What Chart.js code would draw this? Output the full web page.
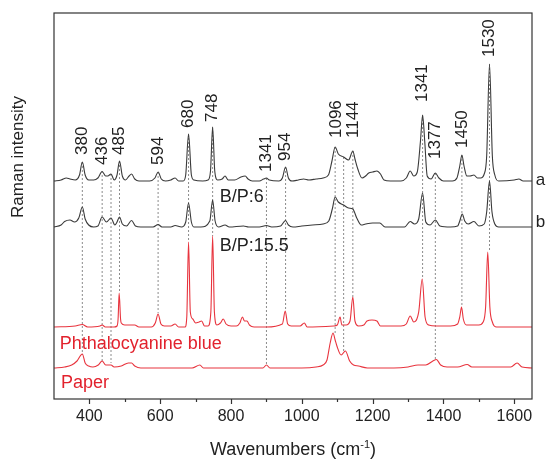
<!DOCTYPE html>
<html>
<head>
<meta charset="utf-8">
<script src="https://cdn.jsdelivr.net/npm/chart.js@4.4.1/dist/chart.umd.min.js"></script>
<style>
    html, body { margin: 0; padding: 0; background: #fff; }
    #wrap { width: 547px; height: 459px; position: relative; }
</style>
</head>
<body>
<div id="wrap"><canvas id="raman"></canvas></div>
<script>
// Eje x (número de onda, cm-1)
const xRange = [300, 1650];
const xTicks = [400, 600, 800, 1000, 1200, 1400, 1600];
const xMinorTicks = [500, 700, 900, 1100, 1300, 1500];
const yRange = [0, 386];

// Desplazamiento vertical de cada espectro (unidades arbitrarias)
const offsetA = 218;
const offsetB = 172;
const offsetBlue = 72;
const offsetPaper = 31;

// [número de onda, intensidad sobre la línea base]
const spectrumA = [
    [300,0],[320,1],[335,3],[345,2],[360,1],[372,6],[380,19],[388,6],[398,1],[412,1],[424,3],[436,9.5],
    [446,5],[452,5],[461,7],[470,1],[478,6],[485,20],[493,5],[502,1],[512,5],[519,7],[528,2],[540,0],
    [570,0],[585,3],[594,9],[603,2],[615,0],[630,1],[642,3],[652,0],[665,0],[672,6],[680,47],[688,6],
    [695,1],[720,0],[735,1],[742,10],[748,54],[754,10],[762,1],[775,2],[783,5],[792,1],[810,1],[828,4],
    [840,5],[848,2],[860,0],[880,0],[892,2],[900,3],[908,1],[935,0],[945,3],[954,14],[962,3],[972,0],
    [990,1],[1005,2],[1020,1],[1040,2],[1060,3],[1075,6],[1085,20],[1094,34],[1103,27],[1118,24],
    [1132,21],[1144,30],[1150,22],[1158,12],[1170,3],[1180,5],[1189,8],[1200,9],[1212,10],[1222,7],
    [1232,1],[1250,0],[1280,0],[1295,3],[1306,10],[1316,5],[1326,9],[1335,40],[1341,66],[1347,40],
    [1354,5],[1365,2],[1377,8],[1387,3],[1400,0],[1425,0],[1438,3],[1446,15],[1452,26],[1458,15],
    [1466,5],[1475,5],[1486,6],[1496,3],[1505,3],[1515,7],[1522,25],[1530,117],[1538,25],[1545,6],
    [1556,0],[1600,1],[1613,2],[1625,0],[1650,0]
];
const spectrumB = [
    [300,0],[320,2],[330,5.5],[345,7],[358,5],[370,9],[380,20],[388,8],[398,2],[412,0],[424,1],[436,10],
    [448,5],[461,9],[472,2],[478,5],[485,10],[493,3],[505,1],[519,6.5],[530,1],[545,0],[580,0],[594,2.5],
    [605,0],[630,0],[642,1.5],[660,0],[672,5],[680,24],[688,5],[695,0],[715,0],[740,6],[748,27],[755,6],
    [765,0],[783,2],[795,0],[835,1],[850,0],[880,0],[900,1.5],[915,0],[940,1],[954,6.5],[962,2],[975,0],
    [1000,1],[1030,2],[1060,3],[1076,6],[1086,18],[1094,30],[1103,25],[1118,22],[1132,19],[1144,18],
    [1155,9],[1168,2],[1180,3],[1200,4],[1220,4],[1235,0],[1290,0],[1306,5.5],[1318,3],[1330,8],
    [1341,34],[1350,5],[1362,2],[1377,7],[1390,1],[1420,0],[1440,1],[1446,6],[1453,13],[1460,6],
    [1470,3],[1486,5.5],[1500,1],[1515,3],[1522,15],[1530,46],[1537,15],[1545,3],[1556,0],[1650,0]
];
const spectrumBlue = [
    [300,0],[360,1],[380,2.5],[395,0],[430,1],[436,2],[445,0],[470,0],[478,1],[481,8],[484,34],[488,8],
    [490,4],[500,2],[520,2],[528,2],[540,0],[575,0],[586,4],[594,13],[602,3],[612,1],[630,1],[642,3],
    [652,0],[670,0],[675,10],[680,85],[685,15],[692,8],[700,4],[710,5],[717,6],[725,1],[735,1],[743,15],
    [748,91],[753,15],[760,2],[770,4],[778,8],[786,3],[800,1],[815,1],[825,4],[832,10],[838,6],[845,6],
    [852,2],[865,0],[900,0],[945,3],[953,16],[960,3],[970,1],[995,1],[1007,4],[1015,0],[1090,1],
    [1100,2],[1108,10],[1113,2],[1125,2],[1136,6],[1144,30],[1150,6],[1160,1],[1175,2],[1184,6],
    [1198,7],[1212,6],[1222,1],[1280,1],[1295,3],[1306,11],[1316,5],[1330,15],[1340,48],[1348,10],
    [1358,2],[1380,1],[1420,1],[1440,3],[1446,10],[1451,20],[1456,8],[1465,2],[1500,2],[1512,5],
    [1519,20],[1525,75],[1531,20],[1538,5],[1550,0],[1650,0]
];
const spectrumPaper = [
    [300,0],[330,1],[350,3],[365,7],[380,14],[388,5],[398,2],[410,1],[425,3],[436,7],[446,3],[461,3],
    [470,1],[490,2],[510,5],[519,5],[528,2],[545,0],[600,0],[690,0],[712,3],[722,0],[800,0],[890,0],
    [900,3],[910,0],[1000,0],[1040,1],[1060,3],[1071,8],[1080,25],[1088,35],[1094,28],[1099,22],
    [1111,13],[1123,17],[1135,7],[1146,3],[1160,2],[1185,0],[1260,0],[1300,1],[1328,3],[1350,3],
    [1370,7],[1380,8.5],[1392,3],[1410,1],[1440,1],[1467,3.5],[1480,1],[1540,1],[1590,1],[1608,5],
    [1622,1],[1650,0]
];

// Etiquetas de picos: [texto, número de onda, intensidad donde empieza el texto]
const peakLabels = [
    ['380', 380, 244], ['436', 436, 234], ['485', 485, 244], ['594', 594, 234],
    ['680', 680, 271], ['748', 748, 277], ['1341', 900, 227], ['954', 954, 238],
    ['1096', 1096, 261], ['1144', 1144, 261], ['1341', 1341, 297], ['1377', 1377, 240],
    ['1450', 1452, 251], ['1530', 1530, 342]
];

// Líneas punteadas: [número de onda, intensidad superior, intensidad inferior]
const dropLines = [
    [380, 237, 44], [436, 228, 38], [461, 225, 36], [485, 238, 107], [594, 227, 86],
    [680, 265, 157], [748, 272, 163], [900, 221, 34], [954, 232, 89], [1094, 252, 66],
    [1118, 242, 48], [1144, 248, 102], [1341, 284, 121], [1377, 226, 39], [1452, 244, 92],
    [1530, 335, 147]
];

// Textos: [texto, número de onda, intensidad, tipo]
const annotations = [
    ['a', 1674, 219, 'gray'], ['b', 1674, 177, 'gray'],
    ['B/P:6', 768, 202, 'gray'], ['B/P:15.5', 768, 153, 'gray'],
    ['Phthalocyanine blue', 316, 55, 'red'], ['Paper', 320, 16, 'red']
];

const FONT = '"Liberation Sans", Arial, sans-serif';
const GRAY = '#3a3a3a';
const RED = '#e8343e';
const RED_TEXT = '#e2222d';
const TEXT = '#222';

const toPoints = (spec, off) => spec.map(([w, h]) => ({ x: w, y: h + off }));

const spectraSets = [
    { data: toPoints(spectrumA, offsetA), borderColor: GRAY },
    { data: toPoints(spectrumB, offsetB), borderColor: GRAY },
    { data: toPoints(spectrumBlue, offsetBlue), borderColor: RED },
    { data: toPoints(spectrumPaper, offsetPaper), borderColor: RED }
].map(d => Object.assign(d, { borderWidth: 1.1, cubicInterpolationMode: 'monotone', order: 1 }));

const dropSets = dropLines.map(([w, top, bottom]) => ({
    data: [{ x: w, y: top }, { x: w, y: bottom }],
    borderColor: '#8c8c8c',
    borderWidth: 1,
    borderDash: [2, 2],
    order: 2
}));

// Marco, marcas del eje y textos
const decorPlugin = {
    id: 'decor',
    afterDraw(chart) {
        const { ctx, chartArea: a, scales: { x, y } } = chart;
        ctx.save();
        ctx.strokeStyle = '#333';
        ctx.lineWidth = 1.2;
        ctx.strokeRect(a.left, a.top, a.right - a.left, a.bottom - a.top);

        ctx.beginPath();
        xTicks.forEach(v => {
            const px = Math.round(x.getPixelForValue(v)) + 0.5;
            ctx.moveTo(px, a.bottom); ctx.lineTo(px, a.bottom + 5);
        });
        xMinorTicks.forEach(v => {
            const px = Math.round(x.getPixelForValue(v)) + 0.5;
            ctx.moveTo(px, a.bottom); ctx.lineTo(px, a.bottom + 3);
        });
        ctx.stroke();

        // etiquetas de picos (rotadas)
        ctx.fillStyle = TEXT;
        ctx.font = '17px ' + FONT;
        ctx.textAlign = 'left';
        ctx.textBaseline = 'middle';
        peakLabels.forEach(([t, w, v]) => {
            ctx.save();
            ctx.translate(x.getPixelForValue(w), y.getPixelForValue(v));
            ctx.rotate(-Math.PI / 2);
            ctx.fillText(t, 0, 0);
            ctx.restore();
        });

        annotations.forEach(([t, w, v, kind]) => {
            ctx.fillStyle = kind === 'red' ? RED_TEXT : TEXT;
            ctx.font = (t.length === 1 ? '17px ' : '18px ') + FONT;
            ctx.textAlign = t.length === 1 ? 'center' : 'left';
            ctx.fillText(t, x.getPixelForValue(w), y.getPixelForValue(v));
        });

        // título eje y
        ctx.fillStyle = TEXT;
        ctx.save();
        ctx.font = '17px ' + FONT;
        ctx.textAlign = 'center';
        ctx.translate(18, 157);
        ctx.rotate(-Math.PI / 2);
        ctx.fillText('Raman intensity', 0, 0);
        ctx.restore();

        // título eje x con superíndice
        const cx = (a.left + a.right) / 2;
        const base = 455;
        const big = '18px ' + FONT, small = '11px ' + FONT;
        ctx.textBaseline = 'alphabetic';
        ctx.textAlign = 'left';
        ctx.font = big;
        const p1 = 'Wavenumbers (cm', p3 = ')';
        const w1 = ctx.measureText(p1).width, w3 = ctx.measureText(p3).width;
        ctx.font = small;
        const w2 = ctx.measureText('-1').width;
        const sx = cx - (w1 + w2 + w3) / 2;
        ctx.font = big;
        ctx.fillText(p1, sx, base);
        ctx.font = small;
        ctx.fillText('-1', sx + w1, base - 7);
        ctx.font = big;
        ctx.fillText(p3, sx + w1 + w2, base);
        ctx.restore();
    }
};

new Chart(document.getElementById('raman'), {
    type: 'line',
    data: { datasets: [...spectraSets, ...dropSets] },
    options: {
        responsive: true,
        maintainAspectRatio: false,
        animation: false,
        layout: { padding: { left: 54, right: 15, top: 13, bottom: 0 } },
        plugins: { legend: { display: false }, tooltip: { enabled: false } },
        elements: { point: { radius: 0 }, line: { tension: 0 } },
        scales: {
            x: {
                type: 'linear',
                min: xRange[0],
                max: xRange[1],
                afterBuildTicks: s => { s.ticks = xTicks.map(v => ({ value: v })); },
                afterFit: s => { s.height = 60; },
                grid: { display: false, drawTicks: false },
                border: { display: false },
                ticks: {
                    color: TEXT,
                    font: { family: FONT, size: 16 },
                    padding: 8,
                    maxRotation: 0,
                    autoSkip: false,
                    callback: v => String(v)
                }
            },
            y: { display: false, min: yRange[0], max: yRange[1] }
        }
    },
    plugins: [decorPlugin]
});
</script>
</body>
</html>
